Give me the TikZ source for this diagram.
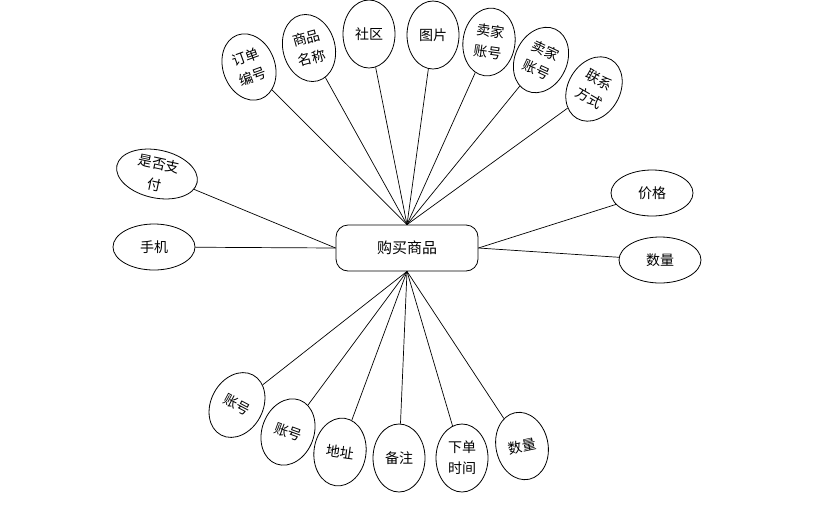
\documentclass[tikz,border=0pt]{standalone}
\usepackage{fontspec}
\setmainfont{Noto Sans CJK SC}
\usetikzlibrary{shapes.geometric}
\tikzset{
  entity/.style={draw=black, rounded corners=12pt, minimum width=142pt, minimum height=46pt, line width=0.8pt, font=\fontsize{15}{17}\selectfont},
  attr/.style={draw=black, ellipse, inner sep=0pt, minimum width=52pt, minimum height=68pt, line width=0.8pt, align=center, font=\fontsize{14}{21}\selectfont},
  wideattr/.style={attr, minimum width=82pt, minimum height=46pt},
  link/.style={line width=0.7pt}
}

\begin{document}
\begin{tikzpicture}[x=1pt, y=-1pt]
\useasboundingbox (0,0) rectangle (829,504);
\node[entity] (hub) at (407,248) {购买商品};
% top
\node[attr, rotate=20] (ddbh) at (249,67) {订单\\编号};
\node[attr, rotate=15] (spmc) at (309,48) {商品\\名称};
\node[attr] (sq) at (369,34) {社区};
\node[attr] (tp) at (433,35) {图片};
\node[attr, rotate=-8] (mjzha) at (489,42) {卖家\\账号};
\node[attr, rotate=-25] (mjzhb) at (541,60) {卖家\\账号};
\node[attr, rotate=-30] (lxfs) at (594,89) {联系\\方式};
% left and right
\node[wideattr, rotate=-12] (sfzf) at (157,174) {是否支\\付};
\node[wideattr] (sj) at (154,247) {手机};
\node[wideattr] (jg) at (652,193) {价格};
\node[wideattr] (sla) at (660,260) {数量};
% bottom
\node[attr, rotate=-28] (zha) at (237,405) {账号};
\node[attr, rotate=-20] (zhb) at (288,432) {账号};
\node[attr, rotate=-8] (dz) at (340,452) {地址};
\node[attr] (bz) at (399,458) {备注};
\node[attr] (xdsj) at (462,458) {下单\\时间};
\node[attr, rotate=12] (slb) at (522,446) {数量};
\foreach \n in {ddbh,spmc,sq,tp,mjzha,mjzhb,lxfs}
  \draw[link] (hub.north) -- (\n);
\foreach \n in {zha,zhb,dz,bz,xdsj,slb}
  \draw[link] (hub.south) -- (\n);
\draw[link] (hub.west) -- (sfzf);
\draw[link] (hub.west) -- (sj);
\draw[link] (hub.east) -- (jg);
\draw[link] (hub.east) -- (sla);
\end{tikzpicture}
\end{document}
